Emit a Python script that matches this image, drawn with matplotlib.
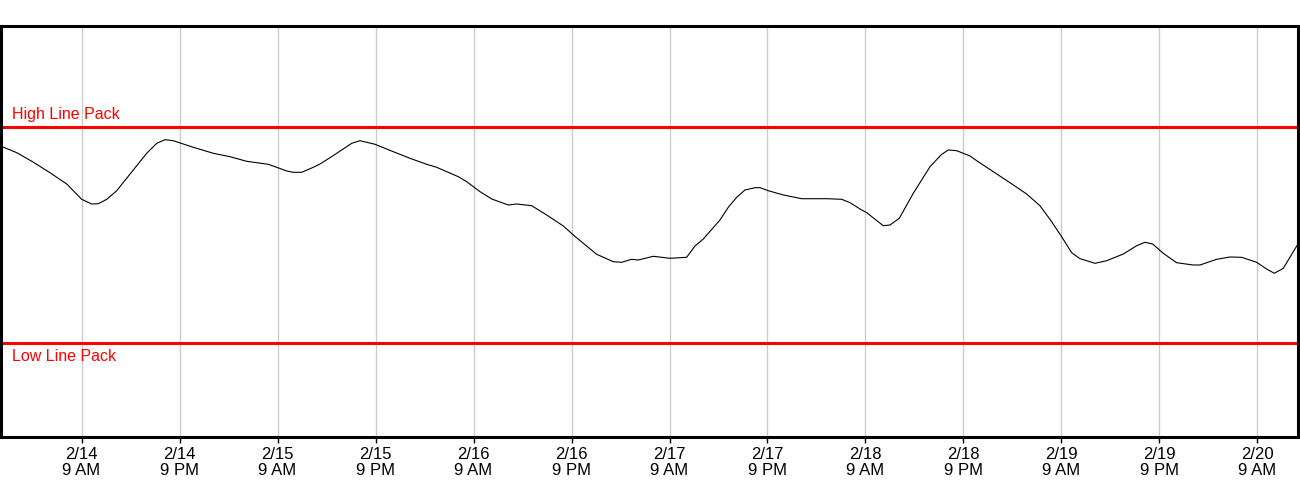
import pandas as pd
import matplotlib.pyplot as plt
import matplotlib.dates as mdates
import matplotlib.transforms as mtransforms
from matplotlib.ticker import FuncFormatter

plt.rcParams['font.family'] = ['Liberation Sans', 'DejaVu Sans']

# 数据: 以 2/14 00:00 为起点的小时数, 以及管存值
start_day = pd.Timestamp('2024-02-14 00:00')
hours = [-1.0, 1.07, 3.06, 5.14, 7.19, 9.02, 10.25, 11.06, 12.09, 13.31,
         15.34, 16.98, 18.21, 19.22, 20.24, 22.69, 25.14, 27.18, 29.23, 31.87,
         32.9, 34.13, 34.93, 35.96, 37.38, 38.2, 39.43, 40.25, 42.09, 43.1,
         44.94, 46.37, 47.18, 49.22, 51.27, 52.49, 55.14, 56.17, 57.8, 59.23,
         61.26, 62.29, 64.13, 65.96, 68.0, 69.22, 72.08, 74.12, 75.15, 76.37,
         77.18, 79.02, 81.06, 83.1, 84.12, 85.14, 87.18, 88.2, 89.23, 90.24,
         91.47, 92.09, 93.1, 94.94, 97.19, 100.25, 102.09, 103.11, 104.33, 105.15,
         107.18, 108.0, 109.14, 110.85, 112.9, 114.33, 115.14, 116.17, 117.8, 118.62,
         120.65, 122.69, 124.73, 126.36, 127.59, 129.02, 130.25, 131.27, 133.1, 134.53,
         136.57, 138.21, 139.22, 140.17, 141.46, 143.1, 145.14, 145.96, 148.0, 149.63,
         151.06, 152.9, 154.12, 155.06, 156.16, 157.88]
line_pack = [981.3, 974.3, 965.0, 954.3, 943.0, 927.7, 923.0, 923.3, 927.7, 936.3,
             957.0, 973.7, 983.7, 987.3, 986.3, 979.7, 973.7, 970.3, 965.7, 962.7,
             959.7, 956.0, 954.7, 954.7, 959.7, 963.0, 969.3, 973.7, 983.7, 986.3,
             982.7, 978.0, 975.3, 968.7, 962.7, 959.7, 950.3, 945.3, 935.3, 928.0,
             922.0, 923.0, 921.3, 912.0, 901.0, 892.0, 872.7, 865.3, 864.7, 867.7,
             867.0, 870.7, 868.7, 869.7, 881.0, 888.0, 907.0, 919.7, 929.7, 937.0,
             939.3, 939.3, 936.3, 932.0, 928.3, 928.3, 927.7, 924.3, 918.0, 914.3,
             901.3, 902.0, 908.7, 933.7, 960.3, 972.7, 977.0, 976.3, 971.0, 966.3,
             955.3, 944.3, 933.0, 921.3, 907.7, 890.3, 874.3, 868.3, 863.7, 866.3,
             873.0, 881.3, 884.7, 883.0, 873.7, 864.3, 862.0, 862.0, 867.7, 870.0,
             869.7, 864.7, 858.0, 853.7, 858.7, 882.0]
high_line_pack = 1000
low_line_pack = 784
x_range_hours = [-0.86, 157.9]
y_range = [690, 1101.5]


def plot_line_pack(save_path):
    times = start_day + pd.to_timedelta(hours, unit='h')

    fig = plt.figure(figsize=(13, 5), dpi=100)
    ax = fig.add_axes([1 / 1300, 63 / 500, 1296.5 / 1300, 411.5 / 500])

    # 上下限红线
    ax.axhline(high_line_pack, color='#ff0000', linewidth=2.2, zorder=3)
    ax.axhline(low_line_pack, color='#ff0000', linewidth=2.2, zorder=3)

    # 管存曲线
    ax.plot(times, line_pack, color='black', linewidth=0.8, zorder=4)

    # 红线文字
    trans = mtransforms.blended_transform_factory(ax.transAxes, ax.transData)
    ax.text(0.0085, high_line_pack + 8, 'High Line Pack', color='#ff0000',
            fontsize=11.5, va='baseline', ha='left', transform=trans)
    ax.text(0.0085, low_line_pack - 18.3, 'Low Line Pack', color='#ff0000',
            fontsize=11.5, va='baseline', ha='left', transform=trans)

    # 坐标轴范围
    ax.set_xlim(start_day + pd.Timedelta(hours=x_range_hours[0]),
                start_day + pd.Timedelta(hours=x_range_hours[1]))
    ax.set_ylim(*y_range)

    # 横轴: 每 12 小时一个刻度 (9 AM / 9 PM)
    ax.xaxis.set_major_locator(mdates.HourLocator(byhour=[9, 21]))

    def fmt(x, pos):
        d = mdates.num2date(x)
        h12 = d.hour % 12 or 12
        ampm = 'AM' if d.hour < 12 else 'PM'
        return f"{d.month}/{d.day}\n{h12} {ampm}"

    ax.xaxis.set_major_formatter(FuncFormatter(fmt))
    ax.tick_params(axis='x', length=4, width=1, pad=3, labelsize=12)
    for lab in ax.get_xticklabels():
        lab.set_linespacing(1.08)
    ax.set_yticks([])

    ax.grid(True, axis='x', color='#cccccc', linewidth=1)
    ax.set_axisbelow(True)
    for sp in ax.spines.values():
        sp.set_linewidth(2.2)
        sp.set_color('black')
        sp.set_zorder(5)

    fig.savefig(save_path, dpi=100)
    plt.close(fig)


if __name__ == "__main__":
    plot_line_pack('out.png')
